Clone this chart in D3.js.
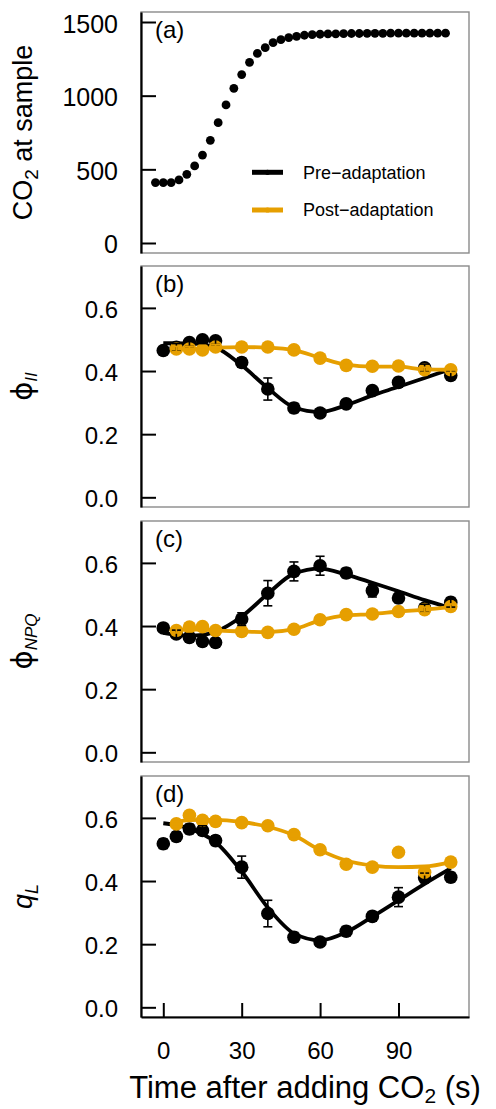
<!DOCTYPE html>
<html>
<head>
<meta charset="utf-8">
<script src="https://cdn.jsdelivr.net/npm/d3@7"></script>
<style>
  html, body { margin: 0; padding: 0; background: #fff; }
  svg { display: block; }
  text { font-family: "Liberation Sans", Arial, Helvetica, sans-serif; fill: #000; }
</style>
</head>
<body>
<svg id="chart" width="496" height="1109"></svg>
<script>
// ---------------- DATA ----------------
const co2Times = [-3, 0, 3, 6, 9, 12, 15, 18, 21, 24, 27, 30, 33, 36, 39, 42, 45, 48, 51, 54, 57,
                  60, 63, 66, 69, 72, 75, 78, 81, 84, 87, 90, 93, 96, 99, 102, 105, 108];
const co2Values = [410, 410, 410, 428, 466, 523, 597, 697, 817, 937, 1050, 1143, 1226, 1287, 1326,
                   1360, 1380, 1394, 1403, 1410, 1415, 1417, 1419, 1420, 1421, 1422, 1422, 1423,
                   1423, 1423, 1424, 1424, 1424, 1424, 1424, 1424, 1424, 1424];

const preTimes  = [0, 5, 10, 15, 20, 30, 40, 50, 60, 70, 80, 90, 100, 110];
const postTimes = [5, 10, 15, 20, 30, 40, 50, 60, 70, 80, 90, 100, 110];

// (b) phi_II
const phiIIPre      = [0.465, 0.475, 0.490, 0.499, 0.496, 0.427, 0.343, 0.283, 0.267, 0.296, 0.338, 0.364, 0.410, 0.386];
const phiIIPreErr   = [0.010, 0.012, 0.012, 0.012, 0.012, 0.015, 0.035, 0.015, 0.012, 0.012, 0.012, 0.015, 0.012, 0.012];
const phiIIPreFit   = [0.488, 0.488, 0.487, 0.484, 0.475, 0.418, 0.346, 0.285, 0.270, 0.292, 0.323, 0.350, 0.378, 0.406];
const phiIIPost     = [0.470, 0.470, 0.467, 0.476, 0.476, 0.476, 0.467, 0.441, 0.418, 0.415, 0.416, 0.404, 0.404];
const phiIIPostErr  = [0.008, 0.008, 0.008, 0.008, 0.008, 0.008, 0.008, 0.008, 0.008, 0.008, 0.008, 0.008, 0.008];
const phiIIPostFit  = [0.472, 0.471, 0.470, 0.474, 0.476, 0.474, 0.466, 0.442, 0.420, 0.414, 0.414, 0.405, 0.404];

// (c) phi_NPQ
const phiNPQPre     = [0.394, 0.375, 0.364, 0.351, 0.348, 0.422, 0.504, 0.573, 0.591, 0.568, 0.512, 0.489, 0.457, 0.475];
const phiNPQPreErr  = [0.010, 0.012, 0.012, 0.012, 0.012, 0.020, 0.040, 0.030, 0.030, 0.015, 0.020, 0.015, 0.012, 0.015];
const phiNPQPreFit  = [0.378, 0.372, 0.370, 0.372, 0.382, 0.430, 0.502, 0.566, 0.582, 0.563, 0.537, 0.510, 0.482, 0.457];
const phiNPQPost    = [0.386, 0.397, 0.398, 0.386, 0.383, 0.380, 0.390, 0.420, 0.436, 0.438, 0.446, 0.452, 0.462];
const phiNPQPostErr = [0.008, 0.008, 0.008, 0.008, 0.008, 0.008, 0.008, 0.008, 0.008, 0.008, 0.008, 0.008, 0.008];
const phiNPQPostFit = [0.388, 0.389, 0.389, 0.386, 0.383, 0.381, 0.390, 0.418, 0.434, 0.438, 0.446, 0.452, 0.460];

// (d) q_L
const qLPre         = [0.518, 0.541, 0.565, 0.560, 0.528, 0.444, 0.297, 0.222, 0.207, 0.241, 0.288, 0.349, 0.410, 0.412];
const qLPreErr      = [0.015, 0.015, 0.015, 0.015, 0.015, 0.035, 0.042, 0.015, 0.012, 0.015, 0.015, 0.030, 0.015, 0.015];
const qLPreFit      = [0.583, 0.577, 0.566, 0.549, 0.523, 0.430, 0.316, 0.234, 0.212, 0.238, 0.287, 0.339, 0.391, 0.440];
const qLPost        = [0.581, 0.608, 0.592, 0.589, 0.585, 0.575, 0.547, 0.499, 0.453, 0.444, 0.491, 0.428, 0.460];
const qLPostErr     = [0.008, 0.008, 0.008, 0.008, 0.008, 0.008, 0.008, 0.008, 0.008, 0.008, 0.008, 0.008, 0.008];
const qLPostFit     = [0.588, 0.593, 0.594, 0.594, 0.587, 0.572, 0.545, 0.498, 0.465, 0.449, 0.444, 0.446, 0.460];

const co2Ticks   = [0, 500, 1000, 1500];
const fracTicks  = [0.0, 0.2, 0.4, 0.6];
const timeTicks  = [0, 30, 60, 90];
const panelLabels = ["(a)", "(b)", "(c)", "(d)"];
const seriesNames = ["Pre\u2212adaptation", "Post\u2212adaptation"];

// ---------------- LAYOUT ----------------
const COL_PRE = "#000000";
const COL_POST = "#E69F00";
const left = 141, right = 469;
const panelTops = [12, 266, 521, 776];
const panelH = 241;

const svg = d3.select("#chart");
const x = d3.scaleLinear().domain([-8.53, 116.98]).range([left, right]);

function zip(ts, vs, es) { return ts.map((t, i) => ({ t, v: vs[i], e: es ? es[i] : 0 })); }

function drawFrame(top) {
  svg.append("rect")
    .attr("x", left).attr("y", top).attr("width", right - left).attr("height", panelH)
    .attr("fill", "none").attr("stroke", "#8a8a8a").attr("stroke-width", 1.4);
}

function drawYAxis(y, ticks, fmt, fontSize) {
  const ax = d3.axisLeft(y).tickValues(ticks).tickFormat(fmt)
    .tickSizeInner(-15).tickSizeOuter(0).tickPadding(23);
  const g = svg.append("g").attr("transform", `translate(${left},0)`).call(ax);
  g.select(".domain").attr("stroke", "#000").attr("stroke-width", 2.2);
  g.selectAll(".tick line").attr("stroke", "#000").attr("stroke-width", 2);
  g.selectAll(".tick text").attr("font-size", fontSize).attr("dy", "0.4em")
    .attr("font-family", '"Liberation Sans", Arial, sans-serif').attr("fill", "#000");
}

function panelLabel(top, label) {
  svg.append("text").attr("x", 155).attr("y", top + 26).attr("font-size", 24).text(label);
}

function yTitle(cy, parts) {
  const t = svg.append("text")
    .attr("transform", `translate(32,${cy}) rotate(-90)`)
    .attr("text-anchor", "middle");
  parts.forEach(p => {
    const s = t.append("tspan").attr("font-size", p.size).text(p.text);
    if (p.dy) s.attr("dy", p.dy);
    if (p.italic) s.attr("font-style", "italic");
    if (p.family) s.attr("font-family", p.family);
  });
  return t;
}

// ---------- Panel (a) ----------
{
  const top = panelTops[0];
  const y = d3.scaleLinear().domain([-67.9, 1567.9]).range([top + panelH, top]);
  drawFrame(top);
  svg.append("g").selectAll("circle")
    .data(zip(co2Times, co2Values)).join("circle")
    .attr("cx", d => x(d.t)).attr("cy", d => y(d.v)).attr("r", 4.4).attr("fill", COL_PRE);
  drawYAxis(y, co2Ticks, d3.format("d"), 25);
  panelLabel(top, panelLabels[0]);
  yTitle(top + panelH / 2, [
    { text: "CO", size: 27 },
    { text: "2", size: 19, dy: 6 },
    { text: " at sample", size: 27, dy: -6 }
  ]);
  // legend
  const lg = svg.append("g");
  const rows = [{ name: seriesNames[0], c: COL_PRE, y: 172.3 }, { name: seriesNames[1], c: COL_POST, y: 210 }];
  rows.forEach(r => {
    lg.append("line").attr("x1", 252).attr("x2", 283).attr("y1", r.y).attr("y2", r.y)
      .attr("stroke", r.c).attr("stroke-width", 5);
    lg.append("circle").attr("cx", 267.5).attr("cy", r.y).attr("r", 2.6).attr("fill", r.c);
    lg.append("text").attr("x", 303).attr("y", r.y + 6.2).attr("font-size", 18).text(r.name);
  });
}

// ---------- Panels (b)-(d) ----------
const PHI = "\u03D5";
const PHI_FONT = '"DejaVu Sans", "Liberation Sans", sans-serif';
const fracPanels = [
  { pre: phiIIPre, preErr: phiIIPreErr, preFit: phiIIPreFit, post: phiIIPost, postErr: phiIIPostErr, postFit: phiIIPostFit,
    title: [{ text: PHI, size: 29, family: PHI_FONT }, { text: "II", size: 17, dy: 5, italic: true }] },
  { pre: phiNPQPre, preErr: phiNPQPreErr, preFit: phiNPQPreFit, post: phiNPQPost, postErr: phiNPQPostErr, postFit: phiNPQPostFit,
    title: [{ text: PHI, size: 29, family: PHI_FONT }, { text: "NPQ", size: 17, dy: 5, italic: true }] },
  { pre: qLPre, preErr: qLPreErr, preFit: qLPreFit, post: qLPost, postErr: qLPostErr, postFit: qLPostFit,
    title: [{ text: "q", size: 27, italic: true }, { text: "L", size: 18, dy: 6, italic: true }] }
];

fracPanels.forEach((p, i) => {
  const top = panelTops[i + 1];
  const y = d3.scaleLinear().domain([-0.0307, 0.7327]).range([top + panelH, top]);
  drawFrame(top);
  const line = d3.line().x(d => x(d.t)).y(d => y(d.v)).curve(d3.curveMonotoneX);

  const preData = zip(preTimes, p.pre, p.preErr);
  const postData = zip(postTimes, p.post, p.postErr);

  const g = svg.append("g");
  g.selectAll("circle.pre").data(preData).join("circle").attr("class", "pre")
    .attr("cx", d => x(d.t)).attr("cy", d => y(d.v)).attr("r", 6.8).attr("fill", COL_PRE);
  g.append("path").datum(zip(preTimes, p.preFit)).attr("d", line)
    .attr("fill", "none").attr("stroke", COL_PRE).attr("stroke-width", 3.8);
  g.append("path").datum(zip(postTimes, p.postFit)).attr("d", line)
    .attr("fill", "none").attr("stroke", COL_POST).attr("stroke-width", 3.8);
  g.selectAll("circle.post").data(postData).join("circle").attr("class", "post")
    .attr("cx", d => x(d.t)).attr("cy", d => y(d.v)).attr("r", 6.8).attr("fill", COL_POST);

  function errBars(data, col) {
    const eg = g.append("g").attr("stroke", col).attr("stroke-width", 1.6);
    data.forEach(d => {
      const cx = x(d.t), y1 = y(d.v - d.e), y2 = y(d.v + d.e);
      eg.append("line").attr("x1", cx).attr("x2", cx).attr("y1", y1).attr("y2", y2);
      eg.append("line").attr("x1", cx - 4.5).attr("x2", cx + 4.5).attr("y1", y1).attr("y2", y1);
      eg.append("line").attr("x1", cx - 4.5).attr("x2", cx + 4.5).attr("y1", y2).attr("y2", y2);
    });
  }
  errBars(preData, COL_PRE);
  errBars(postData, COL_POST);

  drawYAxis(y, fracTicks, d3.format(".1f"), 24);
  panelLabel(top, panelLabels[i + 1]);
  yTitle(top + panelH / 2, p.title);
});

// ---------- x axis (bottom panel) ----------
{
  const bottom = panelTops[3] + panelH;
  const ax = d3.axisBottom(x).tickValues(timeTicks).tickFormat(d3.format("d"))
    .tickSizeInner(-14).tickSizeOuter(0).tickPadding(25);
  const g = svg.append("g").attr("transform", `translate(0,${bottom})`).call(ax);
  g.select(".domain").attr("stroke", "#000").attr("stroke-width", 2.2);
  g.selectAll(".tick line").attr("stroke", "#000").attr("stroke-width", 2);
  g.selectAll(".tick text").attr("font-size", 24)
    .attr("font-family", '"Liberation Sans", Arial, sans-serif').attr("fill", "#000");

  const t = svg.append("text").attr("x", (left + right) / 2).attr("y", 1098)
    .attr("text-anchor", "middle");
  t.append("tspan").attr("font-size", 31).text("Time after adding CO");
  t.append("tspan").attr("font-size", 21).attr("dy", 5).text("2");
  t.append("tspan").attr("font-size", 31).attr("dy", -5).text(" (s)");
}
</script>
</body>
</html>
